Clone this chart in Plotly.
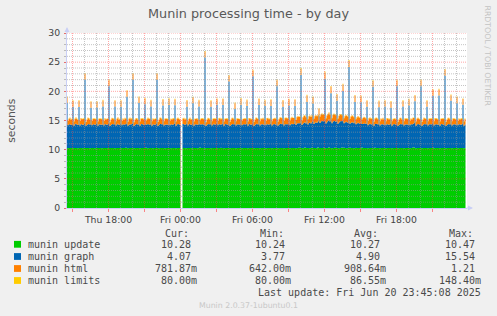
import numpy as np
import pandas as pd
import plotly.graph_objects as go

# ---------------- data (5-minute samples) ----------------
start_time = "2025-06-19 14:30"
sample_freq = "5min"

update = [
    10.27,10.26,10.27,10.28,10.27,10.27,10.26,10.27,10.27,10.28,10.27,10.26,
    10.27,10.27,10.28,10.27,10.26,10.27,10.27,10.27,10.28,10.27,10.27,10.26,
    10.27,10.28,10.27,10.27,10.26,10.27,10.27,10.27,10.28,10.27,10.27,10.26,
    10.27,10.27,10.28,10.27,10.27,10.26,10.27,10.27,10.28,10.27,10.27,10.27,
    10.26,10.27,10.27,10.28,10.27,10.27,10.26,10.27,10.27,10.28,10.27,10.38,
    10.27,10.26,10.27,10.27,10.28,10.27,10.27,10.26,10.27,10.27,10.28,10.27,
    10.27,10.26,10.27,10.27,10.28,10.27,10.27,10.36,10.27,10.26,10.27,10.28,
    10.27,10.27,10.26,10.27,10.27,10.28,10.27,10.27,10.26,10.27,10.27,10.28,
    10.27,10.27,10.26,10.27,10.27,10.28,10.27,10.27,10.24,10.27,10.27,10.28,
    10.27,10.26,10.27,10.27,10.28,10.27,10.27,None,10.27,10.28,10.27,10.26,
    10.27,10.27,10.28,10.27,10.27,10.26,10.27,10.27,10.28,10.27,10.27,10.26,
    10.27,10.40,10.27,10.28,10.27,10.27,10.26,10.27,10.27,10.28,10.27,10.27,
    10.26,10.27,10.27,10.28,10.27,10.27,10.26,10.27,10.27,10.28,10.35,10.27,
    10.27,10.26,10.27,10.27,10.28,10.27,10.27,10.26,10.27,10.27,10.28,10.27,
    10.27,10.26,10.27,10.27,10.28,10.27,10.27,10.26,10.27,10.27,10.28,10.27,
    10.27,10.26,10.27,10.27,10.28,10.27,10.27,10.26,10.27,10.27,10.28,10.27,
    10.27,10.26,10.27,10.27,10.28,10.27,10.27,10.26,10.27,10.27,10.28,10.27,
    10.27,10.26,10.27,10.27,10.28,10.27,10.27,10.26,10.27,10.27,10.28,10.27,
    10.27,10.26,10.27,10.27,10.28,10.27,10.27,10.26,10.27,10.27,10.28,10.27,
    10.27,10.26,10.27,10.27,10.38,10.27,10.28,10.27,10.26,10.27,10.42,10.27,
    10.28,10.27,10.27,10.26,10.27,10.36,10.27,10.28,10.27,10.27,10.26,10.44,
    10.27,10.27,10.28,10.27,10.27,10.39,10.26,10.27,10.27,10.28,10.47,10.27,
    10.27,10.26,10.27,10.27,10.37,10.28,10.27,10.27,10.26,10.27,10.27,10.41,
    10.27,10.36,10.28,10.27,10.26,10.27,10.27,10.38,10.27,10.28,10.27,10.26,
    10.27,10.35,10.27,10.28,10.27,10.27,10.26,10.40,10.27,10.27,10.28,10.27,
    10.27,10.26,10.27,10.27,10.28,10.27,10.27,10.26,10.37,10.27,10.28,10.27,
    10.27,10.26,10.27,10.27,10.28,10.27,10.27,10.26,10.27,10.27,10.28,10.27,
    10.27,10.26,10.27,10.27,10.28,10.27,10.27,10.26,10.27,10.27,10.28,10.27,
    10.27,10.26,10.27,10.27,10.28,10.27,10.27,10.26,10.27,10.27,10.39,10.42,
    10.27,10.26,10.27,10.27,10.28,10.27,10.27,10.26,10.27,10.27,10.28,10.27,
    10.27,10.26,10.27,10.27,10.28,10.27,10.36,10.26,10.27,10.27,10.28,10.27,
    10.27,10.26,10.27,10.27,10.28,10.27,10.27,10.26,10.27,10.27,10.28,10.27,
    10.27,10.26,10.27,10.27,10.28,10.27,10.27,10.26,10.27,10.27,10.28,10.27,
    10.27,10.26,10.27,10.28,
]

graph = [
    7.71,3.92,4.05,4.11,3.98,4.02,  7.11,3.85,4.08,4.15,4.03,3.96,
    7.05,3.88,4.12,4.06,3.99,4.10,  11.71,3.81,3.97,4.09,4.14,4.01,
    6.91,3.90,4.04,4.12,3.95,4.07,  6.95,3.84,4.10,4.02,4.08,3.97,
    7.11,3.89,4.13,4.05,4.00,4.09,  10.61,3.79,3.94,4.07,4.12,4.03,
    7.15,3.87,4.06,4.16,3.98,4.04,  7.08,3.91,4.11,4.01,4.07,3.99,
    8.81,3.83,4.02,4.10,4.05,4.13,  11.70,3.78,3.96,4.08,4.11,4.00,
    7.72,3.86,4.09,4.14,4.02,3.97,  7.50,3.90,4.05,4.12,4.06,4.01,
    7.12,3.85,4.10,4.03,3.99,4.08,  11.68,3.80,3.98,4.11,4.15,4.04,
    7.31,3.88,4.07,4.02,4.09,3.96,  7.40,3.92,4.12,4.05,4.01,4.10,
    7.33,3.86,4.04,4.13,4.07,3.98,  4.60,4.00,4.11,4.06,4.02,4.09,
    7.10,3.89,4.08,4.14,3.97,4.05,  7.70,3.84,4.03,4.10,4.06,4.00,
    7.14,3.91,4.09,4.02,4.12,3.95,  15.54,3.77,3.99,4.08,4.13,4.04,
    7.09,3.87,4.06,4.15,4.01,4.07,  7.42,3.90,4.11,4.04,3.98,4.10,
    7.38,3.85,4.07,4.12,4.05,4.02,  11.40,3.80,3.95,4.09,4.14,4.06,
    6.72,3.88,4.10,4.03,4.08,3.99,  7.41,3.92,4.05,4.13,4.02,4.09,
    7.22,3.86,4.12,4.07,4.00,4.04,  12.30,3.81,3.98,4.10,4.16,4.05,
    7.40,3.89,4.08,4.03,4.11,3.97,  7.20,3.93,4.13,4.06,4.02,4.10,
    7.23,3.87,4.04,4.15,4.09,4.01,  10.62,3.83,4.01,4.12,4.18,4.07,
    7.10,3.90,4.11,4.05,4.14,4.03,  7.30,3.94,4.09,4.17,4.06,4.12,
    7.21,3.98,4.20,4.28,4.15,4.24,  12.50,3.95,4.18,4.31,4.26,4.20,
    7.90,4.05,4.29,4.36,4.22,4.33,  7.62,4.10,4.35,4.42,4.30,4.38,
    5.60,4.32,4.55,4.68,4.60,4.50,  11.90,4.20,4.45,4.62,4.70,4.58,
    9.40,4.25,4.52,4.66,4.55,4.48,  8.10,4.18,4.40,4.58,4.63,4.45,
    9.80,4.15,4.38,4.50,4.42,4.35,  13.90,4.08,4.30,4.44,4.38,4.27,
    7.92,4.02,4.22,4.33,4.25,4.18,  7.88,3.98,4.15,4.24,4.19,4.12,
    7.10,3.92,4.10,4.18,4.08,4.05,  10.50,3.85,4.02,4.12,4.15,4.06,
    7.02,3.89,4.07,4.03,4.10,3.98,  7.12,3.91,4.11,4.05,4.01,4.08,
    6.92,3.86,4.04,4.13,4.06,3.99,  10.60,3.80,3.97,4.09,4.14,4.03,
    7.11,3.88,4.08,4.02,4.10,3.96,  7.30,3.92,4.12,4.06,4.00,4.09,
    8.01,3.85,4.05,4.14,4.07,4.02,  10.62,3.79,3.99,4.10,4.13,4.05,
    7.09,3.87,4.06,4.15,4.02,4.08,  8.90,3.90,4.10,4.04,4.11,3.98,
    9.02,3.84,4.07,4.12,4.05,4.01,  12.40,3.80,3.96,4.09,4.14,4.04,
    8.10,3.88,4.09,4.03,4.10,3.97,  7.70,3.91,4.12,4.06,4.01,4.08,
    7.42,3.86,4.05,4.07,
]

html = [
    1.01,0.74,0.93,1.06,0.89,0.98,  0.98,0.70,0.91,1.04,0.95,0.86,
    1.03,0.76,0.97,0.88,1.02,0.92,  0.99,0.68,0.90,1.07,0.94,0.87,
    1.02,0.73,0.96,0.91,1.05,0.89,  0.97,0.71,0.88,1.03,0.92,0.99,
    1.04,0.75,0.94,0.87,1.01,0.93,  1.00,0.66,0.89,1.05,0.96,0.90,
    0.98,0.72,0.95,1.02,0.88,0.97,  1.03,0.74,0.92,0.86,1.04,0.91,
    0.99,0.69,0.97,1.06,0.90,0.95,  1.02,0.67,0.88,1.01,0.94,0.87,
    1.00,0.73,0.96,0.89,1.03,0.92,  0.97,0.71,0.90,1.05,0.95,0.98,
    1.04,0.76,0.93,0.88,1.00,0.91,  1.01,0.68,0.87,1.04,0.97,0.89,
    0.98,0.72,0.95,1.02,0.90,0.96,  1.03,0.75,0.91,0.86,1.05,0.93,
    0.99,0.70,0.97,1.03,0.92,0.88,  0.80,0.90,0.94,1.06,0.89,0.97,
    1.02,0.73,0.88,1.01,0.95,0.90,  0.97,0.71,0.96,0.87,1.04,0.92,
    1.04,0.74,0.90,1.05,0.93,0.99,  0.95,0.64,0.86,1.02,0.96,0.88,
    1.01,0.72,0.94,0.89,1.03,0.91,  0.98,0.75,0.97,1.06,0.90,0.95,
    1.03,0.70,0.91,0.87,1.02,0.93,  1.00,0.67,0.89,1.04,0.97,0.90,
    0.97,0.73,0.95,1.01,0.88,0.96,  1.04,0.76,0.92,0.86,1.05,0.91,
    0.99,0.71,0.96,1.03,0.93,0.89,  1.02,0.68,0.88,1.05,0.96,0.92,
    1.00,0.74,0.94,0.90,1.02,0.97,  0.98,0.72,0.97,1.06,0.91,0.95,
    1.03,0.75,0.93,0.88,1.04,0.99,  1.01,0.70,0.95,1.08,1.00,1.03,
    1.04,0.78,1.01,1.10,0.98,1.06,  1.05,0.82,1.04,1.12,1.07,1.02,
    1.08,0.85,1.10,1.16,1.05,1.13,  1.06,0.80,1.07,1.18,1.12,1.09,
    1.10,0.88,1.14,1.21,1.09,1.17,  1.12,0.90,1.11,1.19,1.15,1.08,
    1.15,1.05,1.18,1.20,1.13,1.16,  1.09,0.86,1.12,1.19,1.17,1.10,
    1.11,0.89,1.15,1.20,1.08,1.14,  1.07,0.84,1.10,1.17,1.13,1.06,
    1.10,0.87,1.08,1.15,1.11,1.04,  1.05,0.80,1.06,1.12,1.09,1.01,
    1.08,0.83,1.02,1.10,1.04,0.99,  1.03,0.78,0.99,1.07,1.01,0.96,
    1.01,0.75,0.96,1.04,0.93,0.98,  0.99,0.69,0.92,1.05,0.95,0.90,
    1.02,0.73,0.95,0.88,1.03,0.91,  0.98,0.71,0.97,1.04,0.90,0.96,
    1.03,0.75,0.90,0.87,1.02,0.93,  1.00,0.67,0.89,1.05,0.96,0.88,
    0.97,0.72,0.94,1.01,0.92,0.97,  1.04,0.76,0.91,0.86,1.04,0.90,
    0.99,0.70,0.96,1.03,0.93,0.89,  1.02,0.68,0.88,1.06,0.95,0.92,
    1.00,0.74,0.93,0.89,1.02,0.96,  0.98,0.71,0.97,1.05,0.91,0.94,
    1.03,0.75,0.92,0.87,1.04,0.98,  1.01,0.69,0.89,1.03,0.96,0.90,
    0.97,0.73,0.95,1.02,0.88,0.93,  1.04,0.76,0.91,0.86,1.03,0.97,
    0.99,0.70,0.94,0.78,
]

limits = [
    0.11,0.08,0.08,0.08,0.08,0.08, 0.10,0.08,0.08,0.08,0.08,0.08,
    0.12,0.08,0.08,0.08,0.08,0.08, 0.13,0.08,0.08,0.08,0.08,0.08,
    0.10,0.08,0.08,0.08,0.08,0.08, 0.11,0.08,0.08,0.08,0.08,0.08,
    0.12,0.08,0.08,0.08,0.08,0.08, 0.13,0.08,0.08,0.08,0.08,0.08,
    0.10,0.08,0.08,0.08,0.08,0.08, 0.11,0.08,0.08,0.08,0.08,0.08,
    0.12,0.08,0.08,0.08,0.08,0.08, 0.13,0.08,0.08,0.08,0.08,0.08,
    0.11,0.08,0.08,0.08,0.08,0.08, 0.10,0.08,0.08,0.08,0.08,0.08,
    0.12,0.08,0.08,0.08,0.08,0.08, 0.13,0.08,0.08,0.08,0.08,0.08,
    0.11,0.08,0.08,0.08,0.08,0.08, 0.10,0.08,0.08,0.08,0.08,0.08,
    0.12,0.08,0.08,0.08,0.08,0.08, 0.08,0.08,0.08,0.08,0.08,0.08,
    0.11,0.08,0.08,0.08,0.08,0.08, 0.12,0.08,0.08,0.08,0.08,0.08,
    0.10,0.08,0.08,0.08,0.08,0.08, 0.1484,0.08,0.08,0.08,0.08,0.08,
    0.11,0.08,0.08,0.08,0.08,0.08, 0.12,0.08,0.08,0.08,0.08,0.08,
    0.10,0.08,0.08,0.08,0.08,0.08, 0.13,0.08,0.08,0.08,0.08,0.08,
    0.11,0.08,0.08,0.08,0.08,0.08, 0.12,0.08,0.08,0.08,0.08,0.08,
    0.10,0.08,0.08,0.08,0.08,0.08, 0.13,0.08,0.08,0.08,0.08,0.08,
    0.11,0.08,0.08,0.08,0.08,0.08, 0.12,0.08,0.08,0.08,0.08,0.08,
    0.10,0.08,0.08,0.08,0.08,0.08, 0.13,0.08,0.08,0.08,0.08,0.08,
    0.11,0.08,0.08,0.08,0.08,0.08, 0.12,0.08,0.08,0.08,0.08,0.08,
    0.10,0.08,0.08,0.08,0.08,0.08, 0.14,0.08,0.08,0.08,0.08,0.08,
    0.12,0.08,0.08,0.08,0.08,0.08, 0.11,0.08,0.08,0.08,0.08,0.08,
    0.10,0.08,0.08,0.08,0.08,0.08, 0.13,0.08,0.08,0.08,0.08,0.08,
    0.12,0.08,0.08,0.08,0.08,0.08, 0.11,0.08,0.08,0.08,0.08,0.08,
    0.12,0.08,0.08,0.08,0.08,0.08, 0.14,0.08,0.08,0.08,0.08,0.08,
    0.11,0.08,0.08,0.08,0.08,0.08, 0.12,0.08,0.08,0.08,0.08,0.08,
    0.10,0.08,0.08,0.08,0.08,0.08, 0.13,0.08,0.08,0.08,0.08,0.08,
    0.11,0.08,0.08,0.08,0.08,0.08, 0.10,0.08,0.08,0.08,0.08,0.08,
    0.12,0.08,0.08,0.08,0.08,0.08, 0.13,0.08,0.08,0.08,0.08,0.08,
    0.11,0.08,0.08,0.08,0.08,0.08, 0.10,0.08,0.08,0.08,0.08,0.08,
    0.12,0.08,0.08,0.08,0.08,0.08, 0.13,0.08,0.08,0.08,0.08,0.08,
    0.11,0.08,0.08,0.08,0.08,0.08, 0.12,0.08,0.08,0.08,0.08,0.08,
    0.12,0.08,0.08,0.08,0.08,0.08, 0.13,0.08,0.08,0.08,0.08,0.08,
    0.11,0.08,0.08,0.08,0.08,0.08, 0.12,0.08,0.08,0.08,0.08,0.08,
    0.11,0.08,0.08,0.08,
]

series_names = ["munin update", "munin graph", "munin html", "munin limits"]
series_colors = ["#00CC00", "#0066B3", "#FF8000", "#FFCC00"]
cur_vals = ["10.28", "4.07", "781.87m", "80.00m"]
min_vals = ["10.24", "3.77", "642.00m", "80.00m"]
avg_vals = ["10.27", "4.90", "908.64m", "86.55m"]
max_vals = ["10.47", "15.54", "1.21", "148.40m"]
col_headers = ["Cur:", "Min:", "Avg:", "Max:"]
y_tick_vals = [0, 5, 10, 15, 20, 25, 30]
title_text = "Munin processing time - by day"
y_label = "seconds"
last_update_text = "Last update: Fri Jun 20 23:45:08 2025"
version_text = "Munin 2.0.37-1ubuntu0.1"
side_text = "RRDTOOL / TOBI OETIKER"

# ---------------- layout geometry ----------------
W, H = 497, 316
PL, PR, PT, PB = 67, 467, 33, 208          # plot area in pixels
x_range = ["2025-06-19 14:32:30", "2025-06-20 23:52:30"]
y_range = [0, 30]


def px(x):
    return (x - PL) / (PR - PL)


def py(y):
    return (PB - y) / (PB - PT)


times = pd.date_range(start_time, periods=len(update), freq=sample_freq)
stack = np.array([update, graph, html, limits], dtype=float)
cum = np.cumsum(stack, axis=0)

# split into runs of known samples (unknown samples leave a gap, as rrdtool does)
valid = ~np.isnan(cum).any(axis=0)
segments = []
cur_seg = []
for i, ok in enumerate(valid):
    if ok:
        cur_seg.append(i)
    elif cur_seg:
        segments.append(cur_seg)
        cur_seg = []
if cur_seg:
    segments.append(cur_seg)

fig = go.Figure()
for seg in segments:
    for k in range(4):
        fig.add_trace(go.Scatter(
            x=times[seg], y=cum[k][seg], mode="lines",
            line=dict(width=0, shape="hv"),
            fill="tozeroy" if k == 0 else "tonexty",
            fillcolor=series_colors[k], name=series_names[k],
            hoverinfo="skip", showlegend=False,
        ))

# grid drawn above the data (as rrdtool does)
shapes = []
minor_col = "rgba(150,150,150,0.55)"
major_col = "rgba(255,60,60,0.45)"
hours = pd.date_range("2025-06-19 15:00", "2025-06-20 23:00", freq="1h")
for h in hours:
    col = major_col if h.hour % 3 == 0 else minor_col
    shapes.append(dict(type="line", xref="x", yref="y", x0=h, x1=h, y0=0, y1=30,
                       line=dict(color=col, width=1, dash="1px,1px"), layer="above"))
for v in range(1, 31):
    col = major_col if v % 5 == 0 else minor_col
    shapes.append(dict(type="line", xref="x", yref="y", x0=x_range[0], x1=x_range[1],
                       y0=v, y1=v, line=dict(color=col, width=1, dash="1px,1px"),
                       layer="above"))

# legend colour boxes
row_y = [244.3, 256.5, 268.5, 280.5]
for k in range(4):
    shapes.append(dict(type="rect", xref="paper", yref="paper",
                       x0=px(14), x1=px(21), y0=py(row_y[k] + 3.4), y1=py(row_y[k] - 3.4),
                       fillcolor=series_colors[k], line=dict(width=0), layer="above"))

text_col = "#4a4a4a"
mono = "DejaVu Sans Mono"
ann = []
ann.append(dict(text=title_text, x=px(248), y=py(13.5), xref="paper", yref="paper",
                showarrow=False, xanchor="center", yanchor="middle",
                font=dict(family="DejaVu Sans", size=12.8, color="#595959")))
ann.append(dict(text=y_label, x=px(10.8), y=py(120), xref="paper", yref="paper",
                showarrow=False, textangle=-90, xanchor="center", yanchor="middle",
                font=dict(family="DejaVu Sans", size=10.8, color="#555555")))
ann.append(dict(text=side_text, x=px(487.5), y=py(56), xref="paper", yref="paper",
                showarrow=False, textangle=90, xanchor="center", yanchor="middle",
                font=dict(family="DejaVu Sans", size=7.8, color="#c4c4c4")))
header_x = [163.3, 257.7, 352.3, 446.7]
for j, htxt in enumerate(col_headers):
    ann.append(dict(text=htxt, x=px(header_x[j]), y=py(233.3), xref="paper", yref="paper",
                    showarrow=False, xanchor="left", yanchor="middle",
                    font=dict(family=mono, size=10, color=text_col)))
col_right = [199.0, 293.4, 387.8, 482.6]
char_w = 6.02
for k in range(4):
    ann.append(dict(text=series_names[k], x=px(26), y=py(row_y[k]), xref="paper",
                    yref="paper", showarrow=False, xanchor="left", yanchor="middle",
                    font=dict(family=mono, size=10, color=text_col)))
    for j, vals in enumerate([cur_vals, min_vals, avg_vals, max_vals]):
        s = vals[k]
        xr = col_right[j] if s.endswith("m") else col_right[j] - char_w
        ann.append(dict(text=s, x=px(xr), y=py(row_y[k]), xref="paper", yref="paper",
                        showarrow=False, xanchor="right", yanchor="middle",
                        font=dict(family=mono, size=10, color=text_col)))
ann.append(dict(text=last_update_text, x=px(482.6), y=py(292.4), xref="paper",
                yref="paper", showarrow=False, xanchor="right", yanchor="middle",
                font=dict(family=mono, size=10, color=text_col)))
ann.append(dict(text=version_text, x=px(248.5), y=py(305.3), xref="paper", yref="paper",
                showarrow=False, xanchor="center", yanchor="middle",
                font=dict(family="DejaVu Sans", size=7.8, color="#c8c8c8")))
# axis arrows
axis_col = "#c9cff5"
ann.append(dict(text="", x=0, y=1 + 6 / 175, xref="paper", yref="paper", showarrow=True,
                ax=0, ay=8, arrowhead=2, arrowsize=1, arrowwidth=1, arrowcolor=axis_col))
ann.append(dict(text="", x=1 + 6 / 400, y=0, xref="paper", yref="paper", showarrow=True,
                ax=-8, ay=0, arrowhead=2, arrowsize=1, arrowwidth=1, arrowcolor=axis_col))

fig.update_layout(
    width=W, height=H,
    margin=dict(l=PL, r=W - PR, t=PT, b=H - PB, pad=0),
    paper_bgcolor="#f0f0f0", plot_bgcolor="#ffffff",
    font=dict(family="DejaVu Sans", color="#444444"),
    shapes=shapes, annotations=ann, showlegend=False,
    xaxis=dict(
        type="date", range=x_range, showgrid=False, zeroline=False,
        showline=True, linecolor=axis_col, linewidth=1,
        ticks="outside", ticklen=3, tickcolor="rgba(255,60,60,0.6)",
        tick0="2025-06-19 18:00", dtick=6 * 3600 * 1000, tickformat="%a %H:%M",
        tickfont=dict(family="DejaVu Sans", size=9.3, color="#444444"),
        minor=dict(dtick=3 * 3600 * 1000, tick0="2025-06-19 18:00", ticks="outside",
                   ticklen=3, tickcolor="rgba(255,60,60,0.6)", showgrid=False),
    ),
    yaxis=dict(
        range=y_range, showgrid=False, zeroline=False,
        showline=True, linecolor=axis_col, linewidth=1,
        tickvals=y_tick_vals, ticks="outside", ticklen=2,
        tickcolor="rgba(255,60,60,0.6)", ticklabelstandoff=2,
        tickfont=dict(family="DejaVu Sans", size=9.3, color="#444444"),
        minor=dict(dtick=1, ticks="outside", ticklen=2,
                   tickcolor="rgba(150,150,150,0.6)", showgrid=False),
    ),
)

fig.write_html("out.html")
